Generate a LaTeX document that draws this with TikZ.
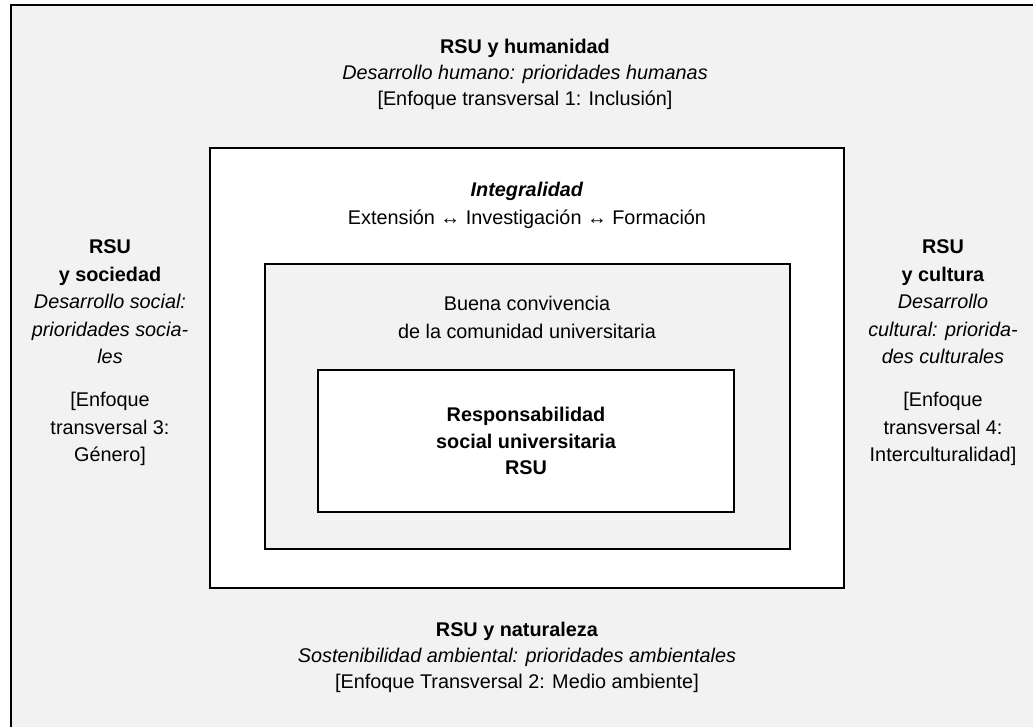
\documentclass[tikz,border=0pt]{standalone}
\usepackage{fontspec}
\setmainfont{Liberation Sans}
\usepackage{tikz}
\usetikzlibrary{positioning}

\begin{document}
\begin{tikzpicture}[x=1bp, y=-1bp, font=\fontsize{19.9}{26}\selectfont,
	caja/.style={draw, line width=1.5bp, inner sep=0pt},
	punteado/.style={fill=black!5},
	texto/.style={align=center, inner sep=0pt}]
	\useasboundingbox (0,0) rectangle (1033,727);
	% fondo punteado y marco exterior
	\fill[punteado] (11,5) rectangle (1033,727);
	\draw[line width=1.8bp] (11,727) -- (11,5) -- (1033,5);

	% cajas anidadas
	\node[caja, fill=white, minimum width=634bp, minimum height=440bp] (integral) at (527,368) {};
	\node[caja, punteado, minimum width=525bp, minimum height=285bp] (convivencia) at (527.5,406.5) {};
	\node[caja, fill=white, minimum width=416bp, minimum height=142bp] (rsu) at (526,441) {};

	% textos
	\node[texto] (humanidad) at (525,74) {\textbf{RSU y humanidad}\\
		\textit{Desarrollo humano: prioridades humanas}\\
		{[}Enfoque transversal 1: Inclusión{]}};
	\node[texto, font=\fontsize{19.9}{28}\selectfont] (integralidad) at (527,205) {\textbf{\textit{Integralidad}}\\
		Extensión ↔ Investigación ↔ Formación};
	\node[texto, font=\fontsize{19.9}{28}\selectfont] (buena) at (527,317) {Buena convivencia\\ de la comunidad universitaria};
	\node[texto, font=\fontsize{19.9}{27}\selectfont\bfseries] (centro) at (526,441) {Responsabilidad\\
		social universitaria\\ RSU};
	\node[texto, font=\fontsize{19.9}{27.5}\selectfont] (sociedad) at (110,353) {\textbf{RSU}\\
		\textbf{y sociedad}\\ \textit{Desarrollo social:}\\ \textit{prioridades socia-}\\
		\textit{les}\\[16bp] {[}Enfoque\\ transversal 3:\\ Género{]}};
	\node[texto, font=\fontsize{19.9}{27.5}\selectfont] (cultura) at (943,353) {\textbf{RSU}\\
		\textbf{y cultura}\\ \textit{Desarrollo}\\ \textit{cultural: priorida-}\\
		\textit{des culturales}\\[16bp] {[}Enfoque\\ transversal 4:\\ Interculturalidad{]}};
	\node[texto] (naturaleza) at (517,657) {\textbf{RSU y naturaleza}\\
		\textit{Sostenibilidad ambiental: prioridades ambientales}\\
		{[}Enfoque Transversal 2: Medio ambiente{]}};
\end{tikzpicture}
\end{document}
